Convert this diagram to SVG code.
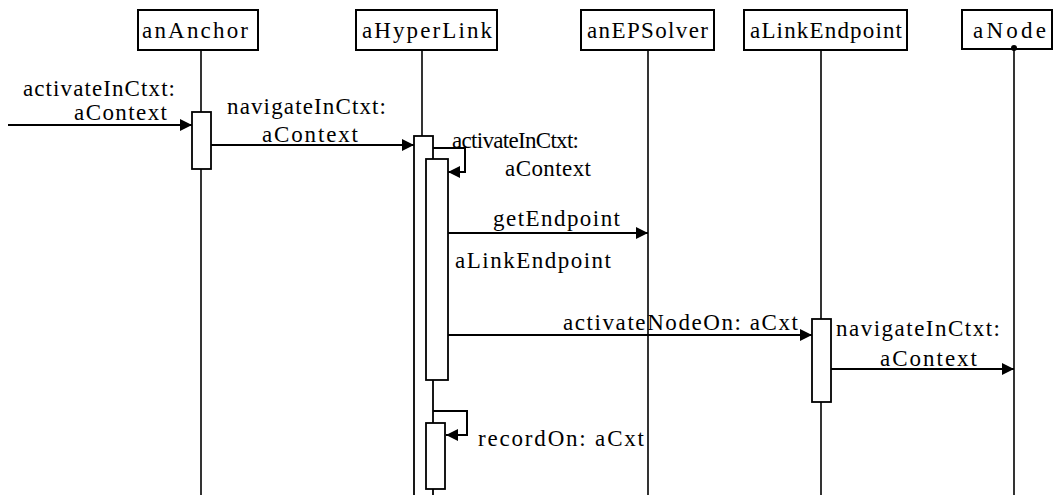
<svg xmlns="http://www.w3.org/2000/svg" width="1054" height="495" viewBox="0 0 1054 495">
  <style>
    .box { fill: #fff; stroke: #000; stroke-width: 2; }
    .life { stroke: #000; stroke-width: 1.6; fill: none; }
    .act { fill: #fff; stroke: #000; stroke-width: 1.8; }
    .msg { stroke: #000; stroke-width: 2; fill: none; marker-end: url(#head); }
    text { font-family: "Liberation Serif", "Times New Roman", serif; font-size: 23px; fill: #000; }
  </style>
  <defs>
    <marker id="head" viewBox="0 0 12 12" refX="12" refY="6" markerWidth="12" markerHeight="12" markerUnits="userSpaceOnUse" orient="auto">
      <path d="M0,0 L12,6 L0,12 Z" fill="#000"/>
    </marker>
  </defs>
  <rect width="1054" height="495" fill="#fff"/>

  <!-- lifelines and activation bars -->
  <g id="anAnchor">
    <line class="life" x1="201" y1="50" x2="201" y2="495"/>
    <rect class="box" x="138" y="10" width="120" height="40"/>
    <text x="142" y="38" textLength="106" lengthAdjust="spacing">anAnchor</text>
    <rect class="act" x="192" y="112" width="19" height="57"/>
  </g>
  <g id="aHyperLink">
    <line class="life" x1="422" y1="50" x2="422" y2="136"/>
    <rect class="box" x="356" y="10" width="141" height="40"/>
    <text x="362" y="38" textLength="130" lengthAdjust="spacing">aHyperLink</text>
    <rect class="act" x="414" y="136" width="19" height="370"/>
    <rect class="act" x="426" y="159" width="22" height="221"/>
    <rect class="act" x="426" y="423" width="19" height="66"/>
  </g>
  <g id="anEPSolver">
    <line class="life" x1="648" y1="50" x2="648" y2="495"/>
    <rect class="box" x="581" y="10" width="133" height="40"/>
    <text x="587" y="38" textLength="121" lengthAdjust="spacing">anEPSolver</text>
  </g>
  <g id="aLinkEndpoint">
    <line class="life" x1="821" y1="50" x2="821" y2="495"/>
    <rect class="box" x="744" y="10" width="163" height="40"/>
    <text x="750" y="38" textLength="152" lengthAdjust="spacing">aLinkEndpoint</text>
    <rect class="act" x="812" y="319" width="19" height="83"/>
  </g>
  <g id="aNode">
    <line class="life" x1="1014" y1="48" x2="1014" y2="495"/>
    <rect class="box" x="962" y="10" width="90" height="39"/>
    <text x="973" y="38" textLength="73" lengthAdjust="spacing">aNode</text>
    <circle cx="1014" cy="48" r="3" fill="#000"/>
  </g>

  <!-- messages -->
  <g id="connectors">
    <line class="msg" x1="8" y1="125" x2="192" y2="125"/>
    <line class="msg" x1="211" y1="145" x2="414" y2="145"/>
    <polyline class="msg" points="433,148 465,148 465,172 448,172"/>
    <line class="msg" x1="448" y1="233" x2="648" y2="233"/>
    <line class="msg" x1="448" y1="335" x2="812" y2="335"/>
    <line class="msg" x1="831" y1="369" x2="1014" y2="369"/>
    <polyline class="msg" points="433,411 467,411 467,435 446,435"/>
  </g>

  <!-- message labels -->
  <g id="labels">
    <text x="23" y="96" textLength="152" lengthAdjust="spacing">activateInCtxt:</text>
    <text x="74" y="120" textLength="93" lengthAdjust="spacing">aContext</text>
    <text x="227" y="114" textLength="159" lengthAdjust="spacing">navigateInCtxt:</text>
    <text x="262" y="142" textLength="96" lengthAdjust="spacing">aContext</text>
    <text x="452" y="148" textLength="127" lengthAdjust="spacing">activateInCtxt:</text>
    <text x="505" y="176" textLength="86" lengthAdjust="spacing">aContext</text>
    <text x="493" y="226" textLength="127" lengthAdjust="spacing">getEndpoint</text>
    <text x="455" y="268" textLength="156" lengthAdjust="spacing">aLinkEndpoint</text>
    <text x="563" y="330" textLength="235" lengthAdjust="spacing">activateNodeOn: aCxt</text>
    <text x="836" y="336" textLength="164" lengthAdjust="spacing">navigateInCtxt:</text>
    <text x="880" y="366" textLength="97" lengthAdjust="spacing">aContext</text>
    <text x="478" y="446" textLength="166" lengthAdjust="spacing">recordOn: aCxt</text>
  </g>
</svg>
